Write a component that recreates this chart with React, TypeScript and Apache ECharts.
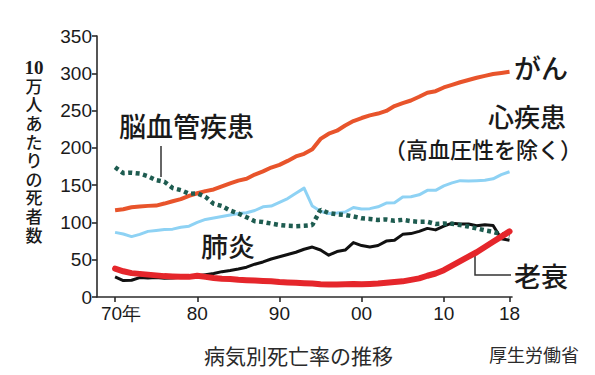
import React, { useEffect, useRef } from "react";
import * as echarts from "echarts";

// 1970–2018, deaths per 100,000 population
const years: number[] = Array.from({ length: 49 }, (_, i) => 1970 + i);

const cancer = [
  116.3, 117.7, 120.4, 121.2, 122.2, 122.6, 125.3, 128.4, 131.3, 135.7,
  139.1, 142.0, 144.2, 148.3, 152.5, 156.1, 158.5, 164.2, 168.4, 173.6,
  177.2, 182.5, 188.5, 192.0, 198.0, 212.0, 219.0, 223.0, 230.0, 236.0,
  240.0, 243.5, 246.0, 249.5, 256.0, 260.0, 263.5, 268.5, 274.0, 276.0,
  281.0, 284.5, 288.0, 291.0, 294.0, 296.5, 299.0, 300.5, 302.0,
];

const heart = [
  86.7, 84.5, 81.0, 84.0, 88.0, 89.2, 90.5, 91.0, 93.5, 95.0,
  100.0, 104.0, 106.0, 108.0, 110.0, 112.0, 113.0, 116.0, 121.0, 122.0,
  127.0, 132.0, 139.0, 146.0, 122.0, 115.0, 112.0, 112.5, 114.0, 120.0,
  118.0, 118.5, 121.0, 126.0, 126.5, 134.0, 134.5, 137.0, 143.0, 143.0,
  149.0, 153.0, 156.0, 155.5, 156.0, 156.5, 158.5, 164.0, 168.0,
];

const cerebro = [
  174.0, 166.1, 166.7, 165.5, 162.0, 156.7, 154.5, 146.2, 143.3, 138.5,
  139.0, 134.3, 125.0, 122.0, 116.0, 112.0, 106.9, 101.7, 100.5, 98.5,
  96.5, 95.5, 95.0, 95.5, 96.5, 117.0, 112.6, 111.0, 110.0, 108.0,
  105.5, 104.7, 103.4, 104.0, 102.3, 103.5, 101.7, 100.8, 100.9, 98.0,
  98.5, 98.2, 96.5, 94.5, 92.0, 89.4, 87.4, 84.0, 81.5,
];

const pneumonia = [
  27.0, 22.0, 22.5, 26.0, 25.5, 26.0, 25.0, 25.5, 26.5, 27.5,
  28.4, 30.0, 31.5, 34.0, 35.5, 37.5, 40.0, 44.0, 47.0, 51.0,
  54.0, 57.0, 60.0, 64.0, 67.0, 63.0, 56.0, 61.0, 63.0, 73.0,
  69.0, 67.0, 69.0, 75.0, 76.0, 84.0, 85.0, 88.0, 92.0, 90.0,
  95.0, 99.0, 98.0, 98.0, 95.5, 97.0, 96.0, 78.0, 76.0,
];

const senility = [
  38.0, 34.5, 32.0, 31.0, 30.0, 29.0, 28.0, 27.5, 27.0, 27.0,
  28.5, 27.0, 25.5, 24.5, 24.0, 23.0, 22.5, 22.0, 21.5, 21.0,
  20.0, 19.5, 19.0, 18.5, 18.0, 17.0, 16.8, 16.8, 17.0, 17.3,
  17.0, 17.5, 18.0, 19.0, 20.0, 21.0, 23.0, 25.0, 28.5, 31.5,
  36.0, 42.0, 48.0, 54.0, 60.0, 67.0, 74.0, 81.0, 88.0,
];

const xTickValues = [1970, 1980, 1990, 2000, 2010, 2018];
const xTickLabels = ["70年", "80", "90", "00", "10", "18"];

const CJK = "'Noto Sans CJK JP', 'Noto Sans', sans-serif";
const NUM = "'Liberation Sans', Arial, sans-serif";
const AXIS = "#2b2b2b";

const toPairs = (vals: number[]) => years.map((y, i) => [y, vals[i]]);

export default function App() {
  const ref = useRef<HTMLDivElement>(null);

  useEffect(() => {
    if (!ref.current) return;
    const chart = echarts.init(ref.current, null, { renderer: "svg" });

    const label = (
      text: string,
      x: number,
      y: number,
      size: number,
      color = "#1a1a1a",
      weight = 500
    ) => ({
      type: "text",
      x,
      y,
      silent: true,
      style: {
        text,
        fill: color,
        font: `${weight} ${size}px ${CJK}`,
        lineHeight: size,
        textAlign: "left",
        textVerticalAlign: "top",
      },
    });

    chart.setOption({
      animation: false,
      backgroundColor: "#ffffff",
      grid: { left: 97, right: 83, top: 36, bottom: 78, containLabel: false },
      xAxis: {
        type: "value",
        min: 1967.8,
        max: 2018.3,
        splitLine: { show: false },
        axisLine: { show: true, lineStyle: { color: AXIS, width: 1.6 } },
        axisTick: {
          show: true,
          length: 5,
          customValues: xTickValues,
          lineStyle: { color: AXIS, width: 1.6 },
        },
        axisLabel: {
          customValues: xTickValues,
          margin: 7,
          color: "#1a1a1a",
          fontSize: 19,
          fontFamily: NUM,
          formatter: (v: number) => {
            const i = xTickValues.indexOf(Math.round(v));
            if (i < 0) return "";
            return i === 0 ? `{first|${xTickLabels[i]}}` : xTickLabels[i];
          },
          rich: {
            first: {
              fontSize: 19,
              fontFamily: NUM,
              color: "#1a1a1a",
              padding: [0, 0, 0, 12],
            },
          },
        },
      },
      yAxis: {
        type: "value",
        min: 0,
        max: 350,
        interval: 50,
        splitLine: { show: false },
        axisLine: { show: true, lineStyle: { color: AXIS, width: 1.6 } },
        axisTick: { show: true, length: 5, lineStyle: { color: AXIS, width: 1.6 } },
        axisLabel: {
          margin: 5,
          color: "#1a1a1a",
          fontSize: 19,
          fontFamily: NUM,
        },
      },
      series: [
        {
          name: "心疾患",
          type: "line",
          data: toPairs(heart),
          showSymbol: false,
          lineStyle: { color: "#8ed2f4", width: 3, join: "round" },
        },
        {
          name: "肺炎",
          type: "line",
          data: toPairs(pneumonia),
          showSymbol: false,
          lineStyle: { color: "#111111", width: 3, join: "round" },
        },
        {
          name: "がん",
          type: "line",
          data: toPairs(cancer),
          showSymbol: false,
          lineStyle: { color: "#e8542b", width: 4, join: "round" },
        },
        {
          name: "脳血管疾患",
          type: "line",
          data: toPairs(cerebro),
          showSymbol: false,
          lineStyle: { color: "#1e5c50", width: 4.5, type: [4, 3.5], cap: "butt" },
        },
        {
          name: "老衰",
          type: "line",
          data: toPairs(senility),
          showSymbol: false,
          lineStyle: { color: "#e5262b", width: 6, join: "round", cap: "round" },
        },
      ],
      graphic: [
        // page frame
        { type: "line", silent: true, shape: { x1: 7, y1: 5, x2: 595, y2: 5 }, style: { stroke: "#8c8c8c", lineWidth: 2 } },
        { type: "line", silent: true, shape: { x1: 7, y1: 5, x2: 7, y2: 375 }, style: { stroke: "#8c8c8c", lineWidth: 2 } },
        // vertical axis title: "10" set upright, then one character per line
        {
          type: "text",
          x: 34,
          y: 58,
          silent: true,
          style: {
            text: "10",
            fill: "#1a1a1a",
            font: "bold 19px 'Liberation Serif', serif",
            textAlign: "center",
            textVerticalAlign: "top",
          },
        },
        {
          type: "text",
          x: 34,
          y: 78,
          silent: true,
          style: {
            text: "万\n人\nあ\nた\nり\nの\n死\n者\n数",
            fill: "#1a1a1a",
            font: `500 17px 'Liberation Serif', ${CJK}`,
            lineHeight: 18.6,
            textAlign: "center",
            textVerticalAlign: "top",
          },
        },
        label("がん", 514, 54, 27),
        label("心疾患", 488, 102, 26),
        label("（高血圧性を除く）", 384, 137, 22),
        label("脳血管疾患", 119, 112, 27),
        label("肺炎", 201, 232, 27),
        label("老衰", 514, 262, 27),
        label("病気別死亡率の推移", 204, 344, 21, "#2a2a2a", 400),
        label("厚生労働省", 489, 345, 18, "#2a2a2a", 400),
        // leader lines
        { type: "line", silent: true, shape: { x1: 161, y1: 146, x2: 161, y2: 177 }, style: { stroke: "#333", lineWidth: 1.5 } },
        {
          type: "polyline",
          silent: true,
          shape: { points: [[475, 252], [475, 275], [511, 275]] },
          style: { stroke: "#333", lineWidth: 1.5, fill: "none" },
        },
      ],
    });

    return () => chart.dispose();
  }, []);

  return <div ref={ref} style={{ width: 595, height: 375, margin: -8 }} />;
}
